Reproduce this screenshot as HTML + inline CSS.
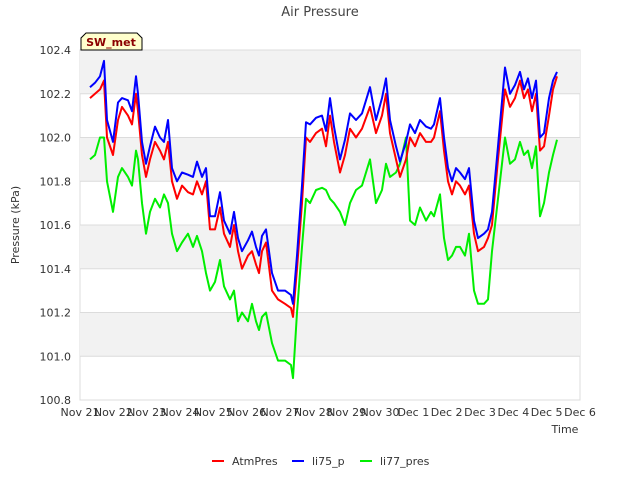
<!DOCTYPE html>
<html><head><meta charset="utf-8"><style>
body{margin:0;background:#fff;font-family:"Liberation Sans","DejaVu Sans",sans-serif;}
svg text{font-family:"DejaVu Sans","Liberation Sans",sans-serif;}
</style></head><body>
<svg id="c" width="640" height="480" xmlns="http://www.w3.org/2000/svg"></svg>
<script>
const days=[0.30,0.45,0.60,0.72,0.81,0.99,1.14,1.26,1.44,1.56,1.68,1.74,1.86,1.98,2.10,2.25,2.40,2.52,2.64,2.76,2.91,3.06,3.24,3.39,3.51,3.66,3.78,3.90,4.05,4.20,4.32,4.50,4.62,4.74,4.86,5.04,5.16,5.28,5.37,5.46,5.58,5.76,5.94,6.15,6.33,6.39,6.51,6.66,6.78,6.90,7.08,7.26,7.38,7.50,7.62,7.80,7.95,8.10,8.28,8.46,8.70,8.88,9.06,9.18,9.30,9.48,9.60,9.78,9.90,10.05,10.20,10.38,10.53,10.62,10.80,10.92,11.04,11.16,11.28,11.40,11.55,11.67,11.82,11.94,12.12,12.24,12.36,12.54,12.75,12.90,13.05,13.20,13.32,13.44,13.56,13.68,13.80,13.92,14.07,14.19,14.31];
const atmPres=[102.18,102.20,102.22,102.26,102.00,101.92,102.08,102.14,102.10,102.06,102.20,102.12,101.92,101.82,101.90,101.98,101.94,101.90,101.98,101.80,101.72,101.78,101.75,101.74,101.80,101.74,101.80,101.58,101.58,101.68,101.56,101.50,101.60,101.48,101.40,101.46,101.48,101.42,101.38,101.48,101.52,101.30,101.26,101.24,101.22,101.18,101.40,101.70,102.00,101.98,102.02,102.04,101.96,102.10,101.98,101.84,101.92,102.04,102.00,102.04,102.14,102.02,102.10,102.20,102.02,101.90,101.82,101.90,102.00,101.96,102.02,101.98,101.98,102.00,102.12,101.94,101.80,101.74,101.80,101.78,101.74,101.78,101.56,101.48,101.50,101.54,101.60,101.90,102.22,102.14,102.18,102.26,102.18,102.22,102.12,102.20,101.94,101.96,102.10,102.22,102.28];
const li75p=[102.23,102.25,102.28,102.35,102.08,101.98,102.16,102.18,102.17,102.12,102.28,102.20,101.98,101.88,101.96,102.05,102.00,101.98,102.08,101.86,101.80,101.84,101.83,101.82,101.89,101.82,101.86,101.64,101.64,101.75,101.62,101.56,101.66,101.54,101.48,101.53,101.57,101.50,101.46,101.55,101.58,101.38,101.30,101.30,101.28,101.24,101.46,101.78,102.07,102.06,102.09,102.10,102.03,102.18,102.05,101.90,101.99,102.11,102.08,102.11,102.23,102.08,102.18,102.27,102.08,101.96,101.89,101.98,102.06,102.02,102.08,102.05,102.04,102.06,102.18,102.00,101.86,101.80,101.86,101.84,101.81,101.86,101.62,101.54,101.56,101.58,101.66,101.96,102.32,102.20,102.24,102.30,102.22,102.27,102.18,102.26,102.00,102.02,102.18,102.26,102.30];
const li77pres=[101.90,101.92,102.00,102.00,101.80,101.66,101.82,101.86,101.82,101.78,101.94,101.90,101.70,101.56,101.66,101.72,101.68,101.74,101.70,101.56,101.48,101.52,101.56,101.50,101.55,101.48,101.38,101.30,101.34,101.44,101.32,101.26,101.30,101.16,101.20,101.16,101.24,101.16,101.12,101.18,101.20,101.06,100.98,100.98,100.96,100.90,101.20,101.50,101.72,101.70,101.76,101.77,101.76,101.72,101.70,101.66,101.60,101.70,101.76,101.78,101.90,101.70,101.76,101.88,101.82,101.84,101.88,102.00,101.62,101.60,101.68,101.62,101.66,101.64,101.74,101.54,101.44,101.46,101.50,101.50,101.46,101.56,101.30,101.24,101.24,101.26,101.48,101.72,102.00,101.88,101.90,101.98,101.92,101.94,101.86,101.96,101.64,101.70,101.84,101.92,101.99];
const yTicks=["100.8","101.0","101.2","101.4","101.6","101.8","102.0","102.2","102.4"];
const xTicks=["Nov 21","Nov 22","Nov 23","Nov 24","Nov 25","Nov 26","Nov 27","Nov 28","Nov 29","Nov 30","Dec 1","Dec 2","Dec 3","Dec 4","Dec 5","Dec 6"];
const L=80,R=580,T=50,B=400,yMin=100.8,yMax=102.4,xMax=15;
const sx=d=>L+d/xMax*(R-L), sy=v=>B-(v-yMin)/(yMax-yMin)*(B-T);
const svg=document.getElementById('c');const NS="http://www.w3.org/2000/svg";
function mk(t,a,txt){const e=document.createElementNS(NS,t);for(const k in a)e.setAttribute(k,a[k]);if(txt!=null)e.textContent=txt;svg.appendChild(e);return e;}
let e=mk('rect',{x:L,y:T,width:R-L,height:B-T,fill:'#fff',stroke:'#ddd'});


for(let i=0;i<yTicks.length-1;i++){const v0=+yTicks[i],v1=+yTicks[i+1];if(i%2==1){e=mk('rect',{x:L,y:sy(v1),width:R-L,height:sy(v0)-sy(v1),fill:'#f2f2f2'});

}}
yTicks.forEach(t=>{const y=sy(+t);mk('line',{x1:L,x2:R,y1:y,y2:y,stroke:'#dcdcdc'});
e=mk('text',{x:L-9,y:y+4,'text-anchor':'end','font-size':11,fill:'#333'},t);

});
xTicks.forEach((t,i)=>{e=mk('text',{x:sx(i),y:416,'text-anchor':'middle','font-size':11,fill:'#333'},t);

});
function series(vals,col,name){const p=vals.map((v,i)=>(i?'L':'M')+sx(days[i]).toFixed(1)+','+sy(v).toFixed(1)).join('');
const el=mk('path',{d:p,fill:'none',stroke:col,'stroke-width':2,'stroke-linejoin':'round'});

}
series(li77pres,'#00ee00','li77-pres-line');series(atmPres,'#ff0000','atmpres-line');series(li75p,'#0000ff','li75-p-line');
e=mk('text',{x:320,y:16,'text-anchor':'middle','font-size':13,fill:'#444'},'Air Pressure');


e=mk('text',{x:565,y:433,'text-anchor':'middle','font-size':11,fill:'#333'},'Time');


e=mk('text',{x:19,y:225,'text-anchor':'middle','font-size':11,fill:'#333',transform:'rotate(-90 19 225)'},'Pressure (kPa)');


e=mk('path',{d:'M81,50 L81,38 L86,33 L137,33 L142,38 L142,50 Z',fill:'#ffffcc',stroke:'#000'});


e=mk('text',{x:111,y:46,'text-anchor':'middle','font-size':11,'font-weight':'bold',fill:'#8b0000'},'SW_met');


[['AtmPres','#ff0000',212],['li75_p','#0000ff',292],['li77_pres','#00ee00',360]].forEach(([n,c,x])=>{
e=mk('line',{x1:x,x2:x+12,y1:461,y2:461,stroke:c,'stroke-width':2});


e=mk('text',{x:x+20,y:465,'font-size':11,fill:'#333'},n);

});
</script>
</body></html>
